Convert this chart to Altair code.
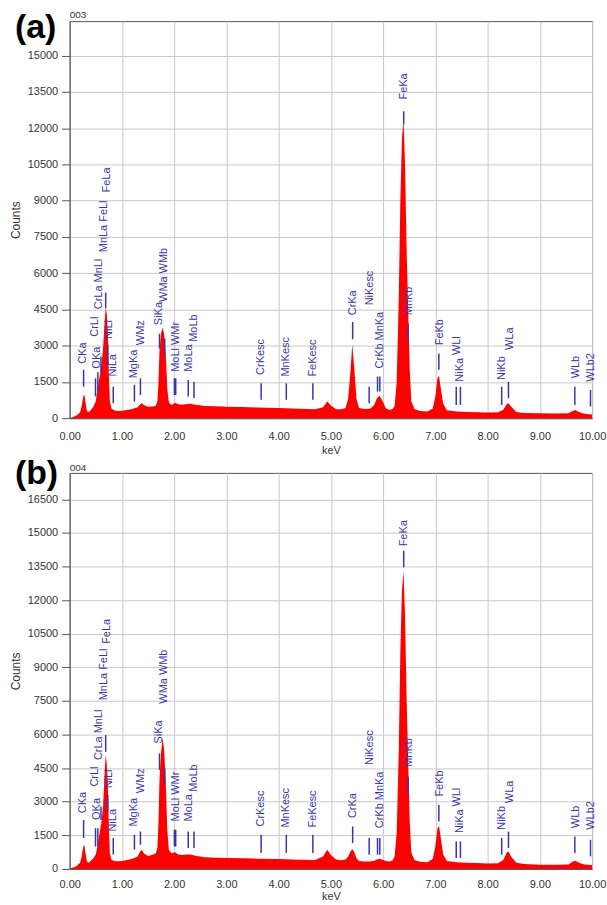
import altair as alt
import pandas as pd

# ---------------- data ----------------
kev = [0.00, 0.05, 0.10, 0.15, 0.20, 0.23, 0.26, 0.28, 0.30, 0.33, 0.37, 0.40, 0.45, 0.50,
       0.54, 0.58, 0.61, 0.64, 0.67, 0.69, 0.71, 0.73, 0.75, 0.77, 0.80, 0.85, 0.90, 1.00,
       1.10, 1.20, 1.30, 1.35, 1.38, 1.42, 1.50, 1.60, 1.65, 1.68, 1.70, 1.72, 1.75, 1.78,
       1.81, 1.84, 1.87, 1.90, 1.95, 2.02, 2.08, 2.15, 2.25, 2.32, 2.40, 2.60, 2.80, 3.00,
       3.30, 3.60, 4.00, 4.40, 4.70, 4.85, 4.93, 5.00, 5.10, 5.20, 5.28, 5.33, 5.37, 5.41,
       5.45, 5.49, 5.54, 5.65, 5.75, 5.83, 5.88, 5.93, 5.98, 6.05, 6.12, 6.18, 6.22, 6.26,
       6.30, 6.33, 6.36, 6.39, 6.42, 6.45, 6.48, 6.51, 6.54, 6.60, 6.70, 6.85, 6.95, 7.00,
       7.04, 7.07, 7.10, 7.15, 7.22, 7.40, 7.60, 7.80, 8.00, 8.20, 8.30, 8.37, 8.40, 8.45,
       8.55, 8.70, 9.00, 9.30, 9.55, 9.63, 9.68, 9.75, 9.85, 10.00]

counts_a = [0, 40, 80, 140, 250, 500, 900, 980, 700, 300, 250, 330, 450, 700,
            1300, 1800, 2200, 2900, 4000, 4600, 4300, 3600, 1800, 700, 400, 330, 300, 310,
            340, 380, 450, 580, 620, 540, 470, 480, 520, 700, 1500, 2800, 3500, 3750,
            3450, 2600, 1200, 650, 550, 640, 580, 560, 590, 600, 560, 500, 490, 470,
            460, 440, 420, 390, 370, 450, 690, 520, 370, 370, 420, 800, 1800, 3050,
            2000, 800, 420, 380, 390, 550, 820, 930, 750, 420, 340, 380, 500, 1500,
            5000, 9000, 11500, 12400, 10500, 7000, 4500, 2000, 700, 380, 300, 280, 400, 900,
            1650, 1750, 1300, 600, 330, 280, 260, 240, 230, 240, 350, 600, 620, 480,
            260, 210, 200, 190, 200, 300, 340, 260, 180, 150]

counts_b = [0, 50, 90, 160, 280, 560, 1000, 1080, 760, 330, 280, 360, 470, 650,
            1100, 1700, 2100, 2800, 4300, 5100, 4700, 3800, 1900, 700, 420, 350, 340, 360,
            400, 460, 560, 780, 860, 700, 580, 640, 700, 950, 2100, 4000, 5200, 5850,
            5300, 3800, 1700, 850, 700, 740, 640, 620, 640, 650, 590, 520, 500, 490,
            480, 460, 440, 410, 400, 550, 860, 620, 420, 390, 420, 550, 760, 890,
            750, 480, 360, 330, 330, 370, 420, 450, 420, 360, 330, 380, 550, 1600,
            5300, 9700, 12400, 13300, 11300, 7600, 4800, 2100, 750, 400, 320, 300, 450, 1000,
            1800, 1920, 1450, 650, 350, 300, 280, 260, 240, 250, 400, 750, 780, 550,
            280, 220, 190, 190, 200, 330, 370, 280, 200, 180]

# peak marker lines: energy, bottom, top (counts)
line_kev = [0.267, 0.495, 0.54, 0.60, 0.69, 0.73, 0.835, 1.24, 1.355, 1.72, 1.82, 2.005,
            2.03, 2.27, 2.38, 3.665, 4.147, 4.655, 5.417, 5.733, 5.893, 5.937, 6.394, 6.48,
            7.067, 7.40, 7.48, 8.27, 8.40, 9.67, 9.97]
line_lo_a = [1300, 900, 1100, 1900, 4550, 2200, 620, 690, 960, 2880, 2600, 960,
             960, 900, 830, 760, 760, 760, 3270, 620, 1100, 1100, 12150, 3230,
             2000, 550, 550, 550, 825, 550, 480]
line_hi_a = [2000, 1650, 1900, 2550, 5200, 3050, 1300, 1380, 1650, 3500, 3300, 1650,
             1650, 1580, 1510, 1440, 1440, 1440, 3985, 1300, 1720, 1720, 12700, 3915,
             2680, 1300, 1300, 1300, 1510, 1300, 1170]
line_lo_b = [1380, 1000, 1000, 2190, 5230, 2560, 640, 860, 1080, 4420, 3750, 1005,
             1005, 935, 935, 710, 710, 710, 1157, 636, 636, 636, 13460, 3380,
             2120, 490, 490, 636, 935, 710, 560]
line_hi_b = [2190, 1820, 1820, 2785, 5975, 3300, 1380, 1525, 1670, 5160, 4490, 1750,
             1750, 1670, 1670, 1525, 1525, 1525, 1895, 1380, 1380, 1380, 14200, 4120,
             2860, 1230, 1230, 1380, 1670, 1450, 1300]

# peak labels: text, energy, base (counts)
label_text = ["CKa", "OKa", "CrLl", "CrLa MnLl", "MnLa FeLl", "FeLa", "NiLl", "NiLa",
              "MgKa", "WMz", "SiKa", "WMa WMb", "MoLl WMr", "MoLa", "MoLb", "CrKesc",
              "MnKesc", "FeKesc", "CrKa", "NiKesc", "CrKb MnKa", "FeKa", "MnKb", "FeKb",
              "WLl", "NiKa", "NiKb", "WLa", "WLb", "WLb2"]
label_kev = [0.255, 0.525, 0.48, 0.565, 0.655, 0.72, 0.75, 0.83,
             1.238, 1.366, 1.714, 1.81, 2.03, 2.29, 2.38, 3.665,
             4.147, 4.655, 5.417, 5.75, 5.937, 6.40, 6.49, 7.08,
             7.41, 7.48, 8.27, 8.42, 9.69, 9.98]
label_base_a = [2250, 2050, 3370, 4510, 6870, 9340, 3280, 1720,
                1650, 3020, 3850, 4810, 1920, 1920, 3160, 1790,
                1720, 1720, 4260, 4670, 2060, 13185, 4260, 3020,
                2610, 1510, 1580, 2820, 1650, 1510]
label_base_b = [2490, 2190, 3675, 4860, 7530, 10050, 3600, 1670,
                1895, 3380, 5600, 7380, 2120, 2120, 3450, 1895,
                1850, 1850, 2270, 4640, 1820, 14400, 4560, 3230,
                2785, 1600, 1750, 2935, 1820, 1750]

x_ticks = [0, 1, 2, 3, 4, 5, 6, 7, 8, 9, 10]
y_ticks_a = [0, 1500, 3000, 4500, 6000, 7500, 9000, 10500, 12000, 13500, 15000]
y_ticks_b = [0, 1500, 3000, 4500, 6000, 7500, 9000, 10500, 12000, 13500, 15000, 16500]
y_max_a = 16430
y_max_b = 17680

# ---------------- styling ----------------
FONT = "Liberation Sans"
RED = "#ff0000"
BLUE = "#3636a8"
GRID = "#c8c8c8"
INK = "#333333"


def panel(counts, lo, hi, base, ymax, yticks, tag, tag_y, code, code_y, height,
          xlab_pad, xtitle_pad):
    xscale = alt.Scale(domain=[0, 10], nice=False, zero=False)
    yscale = alt.Scale(domain=[0, ymax], nice=False, zero=True)
    x_axis = alt.Axis(values=x_ticks, format=".2f", title="keV", grid=True,
                      gridColor=GRID, gridWidth=1, ticks=False, labelPadding=xlab_pad,
                      labelFont=FONT, labelFontSize=11, labelColor=INK,
                      labelFlush=False, labelOverlap=False,
                      titleFont=FONT, titleFontSize=11, titleFontWeight="normal",
                      titleColor=INK, titlePadding=xtitle_pad, domainColor="#555555")
    y_axis = alt.Axis(values=yticks, format="d", title="Counts", grid=True,
                      gridColor=GRID, gridWidth=1, tickSize=8, tickColor="#555555",
                      labelPadding=4, labelFont=FONT, labelFontSize=11,
                      labelColor=INK, labelFlush=False, labelOverlap=False,
                      titleFont=FONT, titleFontSize=12, titleFontWeight="normal",
                      titleColor=INK, titlePadding=5, domainColor="#555555")
    X = alt.X("keV:Q", scale=xscale, axis=x_axis, title="keV")
    Y = alt.Y("Counts:Q", scale=yscale, axis=y_axis, title="Counts")

    spec = pd.DataFrame({"keV": kev, "Counts": counts})
    lines = pd.DataFrame({"keV": line_kev, "Counts": lo, "Top": hi})
    labels = pd.DataFrame({"keV": label_kev, "Counts": base, "label": label_text})

    area = alt.Chart(spec).mark_area(color=RED, interpolate="linear", opacity=1).encode(x=X, y=Y)
    rules = alt.Chart(lines).mark_rule(color=BLUE, strokeWidth=1.5).encode(
        x=X, y=Y, y2="Top:Q")
    texts = alt.Chart(labels).mark_text(
        angle=270, align="left", baseline="middle", color=BLUE, font=FONT,
        fontSize=11).encode(x=X, y=Y, text="label:N")
    tag_text = alt.Chart(pd.DataFrame({"t": [tag]})).mark_text(
        font=FONT, fontSize=34, fontWeight="bold", align="left",
        baseline="alphabetic", color="black").encode(
        x=alt.value(-55), y=alt.value(tag_y), text="t:N")
    code_text = alt.Chart(pd.DataFrame({"t": [code]})).mark_text(
        font=FONT, fontSize=10, align="left", baseline="alphabetic",
        color=INK).encode(x=alt.value(0), y=alt.value(code_y), text="t:N")
    return alt.layer(area, rules, texts, tag_text, code_text).properties(
        width=525, height=height)


pa = panel(counts_a, line_lo_a, line_hi_a, label_base_a, y_max_a, y_ticks_a,
           "(a)", 16.5, "003", -3, 399, 12, 4)
pb = panel(counts_b, line_lo_b, line_hi_b, label_base_b, y_max_b, y_ticks_b,
           "(b)", 11.5, "004", -2, 398, 10, 1)

chart = alt.vconcat(pa, pb, spacing=55, bounds="flush").resolve_scale(
    x="independent", y="independent").properties(
    padding={"left": 8, "top": 7, "right": 0, "bottom": 0},
    background="white").configure_view(stroke="#555555", strokeWidth=1)

chart.save("out.html", embed_options={"renderer": "svg", "actions": False})
